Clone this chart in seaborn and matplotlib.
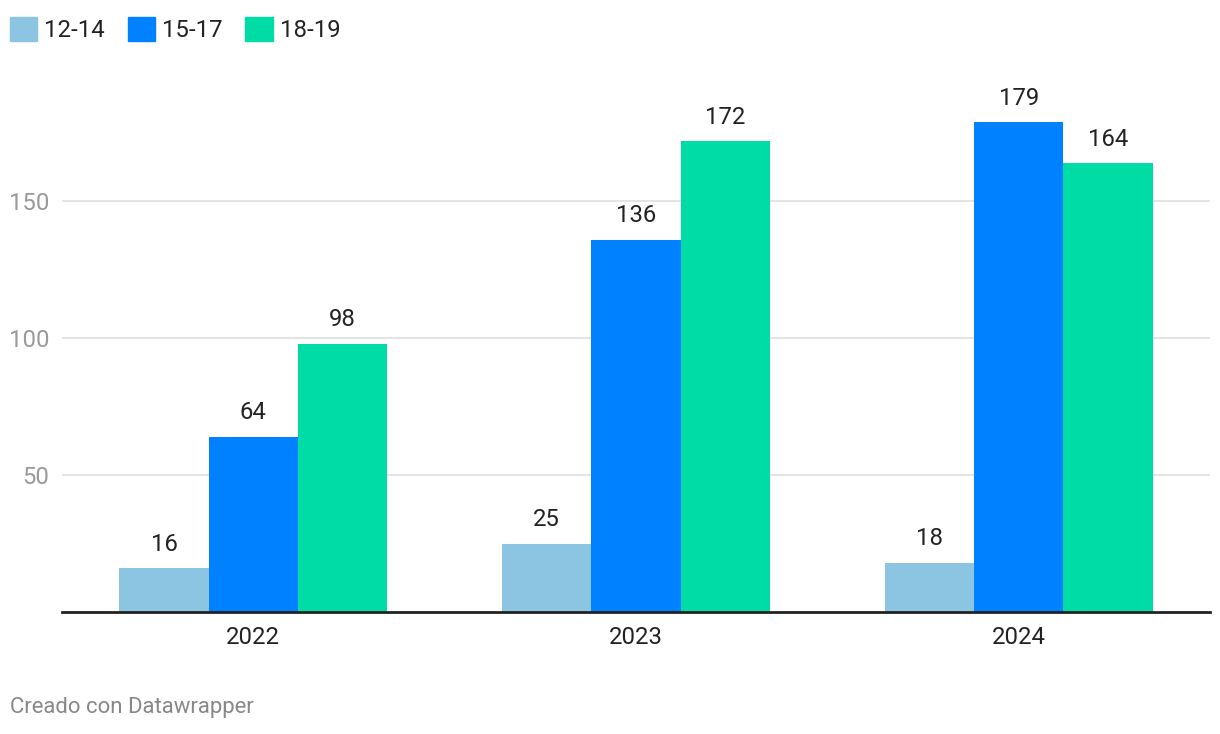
import matplotlib.pyplot as plt
import pandas as pd
import seaborn as sns

years = ["2022", "2023", "2024"]
groups = ["12-14", "15-17", "18-19"]
vals_12_14 = [16, 25, 18]
vals_15_17 = [64, 136, 179]
vals_18_19 = [98, 172, 164]
colors = ["#8bc5e1", "#0081ff", "#00dca6"]

df = pd.DataFrame({
    "year": years * 3,
    "group": [g for g in groups for _ in years],
    "value": vals_12_14 + vals_15_17 + vals_18_19,
})

sns.set_theme(style="white")
plt.rcParams["font.family"] = ["Roboto", "DejaVu Sans"]

fig = plt.figure(figsize=(12.2, 7.34), dpi=100)
ax = fig.add_axes([62 / 1220, 1 - 612 / 734, 1148 / 1220, 190 * 2.737 / 734])

sns.barplot(data=df, x="year", y="value", hue="group", order=years, hue_order=groups,
            palette=colors, width=0.7, gap=0, saturation=1, linewidth=0,
            ax=ax, legend=False)

for c in ax.containers:
    ax.bar_label(c, padding=9, fontsize=17.2, color="#222222")

ax.set_xlim(-0.5, 2.5)
ax.set_ylim(0, 190)
ax.set_yticks([50, 100, 150])
ax.set_xlabel("")
ax.set_ylabel("")
ax.grid(axis="y", color="#e2e2e2", lw=1.3)
ax.set_axisbelow(True)
for s in ["top", "right", "left"]:
    ax.spines[s].set_visible(False)
ax.spines["bottom"].set_color("#222222")
ax.spines["bottom"].set_linewidth(2)
ax.tick_params(axis="y", length=0, pad=9, labelsize=17.2, labelcolor="#9a9a9a")
ax.tick_params(axis="x", length=0, pad=10, labelsize=17.2, labelcolor="#222222")

handles = [plt.Rectangle((0, 0), 1, 1, color=c) for c in colors]
fig.legend(handles, groups, loc="upper left", bbox_to_anchor=(0.0, 0.99), ncol=3,
           frameon=False, fontsize=17.2, handlelength=1.15, handleheight=1.15,
           handletextpad=0.3, columnspacing=0.95, borderaxespad=0.15, borderpad=0.25,
           labelcolor="#222222")

fig.text(10 / 1220, 1 - 708 / 734, "Creado con Datawrapper", fontsize=15.9,
         color="#888888", va="center", ha="left")

fig.savefig("out.png", dpi=100)
